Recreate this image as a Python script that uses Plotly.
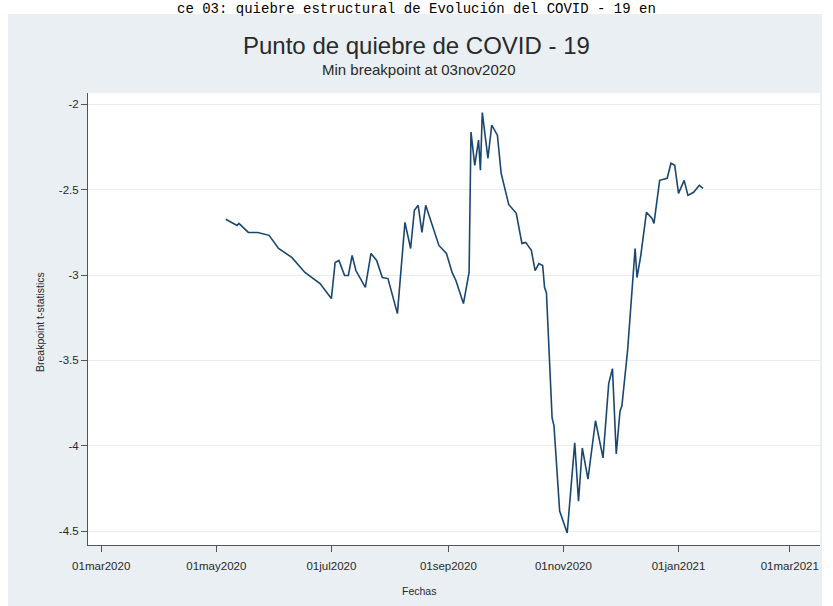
import plotly.graph_objects as go

# ---- data ----
dates = [
    "2020-05-06", "2020-05-12", "2020-05-13", "2020-05-18", "2020-05-23", "2020-05-29",
    "2020-06-03", "2020-06-10", "2020-06-17", "2020-06-25", "2020-07-01", "2020-07-03",
    "2020-07-05", "2020-07-08", "2020-07-10", "2020-07-12", "2020-07-14", "2020-07-19",
    "2020-07-22", "2020-07-25", "2020-07-28", "2020-07-31", "2020-08-05", "2020-08-09",
    "2020-08-12", "2020-08-14", "2020-08-16", "2020-08-18", "2020-08-20", "2020-08-24",
    "2020-08-27", "2020-08-31", "2020-09-03", "2020-09-05", "2020-09-09", "2020-09-12",
    "2020-09-13", "2020-09-15", "2020-09-17", "2020-09-18", "2020-09-19", "2020-09-22",
    "2020-09-24", "2020-09-27", "2020-09-29", "2020-10-03", "2020-10-07", "2020-10-10",
    "2020-10-12", "2020-10-15", "2020-10-17", "2020-10-19", "2020-10-21", "2020-10-22",
    "2020-10-23", "2020-10-26", "2020-10-27", "2020-10-30", "2020-11-03", "2020-11-07",
    "2020-11-09", "2020-11-11", "2020-11-12", "2020-11-14", "2020-11-18", "2020-11-20",
    "2020-11-22", "2020-11-25", "2020-11-27", "2020-11-29", "2020-12-01", "2020-12-02",
    "2020-12-05", "2020-12-09", "2020-12-10", "2020-12-12", "2020-12-15", "2020-12-18",
    "2020-12-19", "2020-12-22", "2020-12-26", "2020-12-28", "2020-12-30", "2021-01-01",
    "2021-01-04", "2021-01-06", "2021-01-09", "2021-01-12", "2021-01-14",
]
tstat = [
    -2.674, -2.710, -2.698, -2.751, -2.751, -2.768,
    -2.845, -2.897, -2.985, -3.050, -3.138, -2.927,
    -2.915, -3.003, -3.003, -2.886, -2.974, -3.073,
    -2.874, -2.915, -3.015, -3.021, -3.226, -2.692,
    -2.845, -2.622, -2.592, -2.751, -2.592, -2.721,
    -2.827, -2.874, -2.985, -3.032, -3.167, -2.985,
    -2.164, -2.358, -2.211, -2.387, -2.050, -2.317,
    -2.123, -2.182, -2.405, -2.587, -2.639, -2.815,
    -2.809, -2.856, -2.974, -2.933, -2.944, -3.073,
    -3.103, -3.836, -3.883, -4.381, -4.510, -3.982,
    -4.323, -4.012, -4.076, -4.194, -3.853, -3.953,
    -4.070, -3.636, -3.548, -4.047, -3.795, -3.765,
    -3.443, -2.845, -3.015, -2.886, -2.633, -2.669,
    -2.698, -2.446, -2.434, -2.346, -2.358, -2.522,
    -2.446, -2.534, -2.516, -2.475, -2.493,
]

x_tick_vals = ["2020-03-01", "2020-05-01", "2020-07-01", "2020-09-01",
               "2020-11-01", "2021-01-01", "2021-03-01"]
x_tick_text = ["01mar2020", "01may2020", "01jul2020", "01sep2020",
               "01nov2020", "01jan2021", "01mar2021"]
y_tick_vals = [-2, -2.5, -3, -3.5, -4, -4.5]
y_tick_text = ["-2", "-2.5", "-3", "-3.5", "-4", "-4.5"]

title_text = "Punto de quiebre de COVID - 19"
subtitle_text = "Min breakpoint at 03nov2020"
x_title = "Fechas"
y_title = "Breakpoint t-statistics"
top_text = "ce 03: quiebre estructural de Evolución del COVID - 19 en"

W, H = 833, 606
L, R, T, B = 88, 13, 93, 61
pw, ph = W - L - R, H - T - B

def px(xp):
    return (xp - L) / pw

def py(yp):
    return (H - B - yp) / ph

REGION = "#e9eff2"
FONT = "Liberation Sans, Arial, sans-serif"
TXT = "#2a2a2a"

fig = go.Figure()
fig.add_trace(go.Scatter(
    x=dates, y=tstat, mode="lines",
    line=dict(color="#1a476f", width=1.6),
    showlegend=False, hoverinfo="x+y",
))

shapes = [
    # white strips around the graph region
    dict(type="rect", xref="paper", yref="paper", x0=px(-5), x1=px(W + 5), y0=py(14), y1=py(-5),
         fillcolor="white", line=dict(width=0), layer="below"),
    dict(type="rect", xref="paper", yref="paper", x0=px(-5), x1=px(8), y0=py(H + 5), y1=py(-5),
         fillcolor="white", line=dict(width=0), layer="below"),
    dict(type="rect", xref="paper", yref="paper", x0=px(822), x1=px(W + 5), y0=py(H + 5), y1=py(-5),
         fillcolor="white", line=dict(width=0), layer="below"),
]

annotations = [
    dict(text=title_text, xref="paper", yref="paper", x=px(416), y=py(45),
         showarrow=False, font=dict(family=FONT, size=24, color=TXT),
         xanchor="center", yanchor="middle"),
    dict(text=subtitle_text, xref="paper", yref="paper", x=px(418), y=py(70),
         showarrow=False, font=dict(family=FONT, size=15, color=TXT),
         xanchor="center", yanchor="middle"),
    dict(text=top_text, xref="paper", yref="paper", x=px(416), y=py(9),
         showarrow=False, font=dict(family="Liberation Mono, Courier New, monospace", size=14, color="#000"),
         xanchor="center", yanchor="middle"),
    dict(text=x_title, xref="paper", yref="paper", x=px(419), y=py(591),
         showarrow=False, font=dict(family=FONT, size=10.5, color=TXT),
         xanchor="center", yanchor="middle"),
    dict(text=y_title, xref="paper", yref="paper", x=px(40), y=py(322),
         showarrow=False, textangle=-90, font=dict(family=FONT, size=10.5, color=TXT),
         xanchor="center", yanchor="middle"),
]

fig.update_layout(
    width=W, height=H,
    margin=dict(l=L, r=R, t=T, b=B, pad=0),
    paper_bgcolor=REGION,
    plot_bgcolor="white",
    font=dict(family=FONT, color=TXT),
    shapes=shapes,
    annotations=annotations,
    xaxis=dict(
        type="date",
        range=["2020-02-23", "2021-03-17"],
        tickvals=x_tick_vals, ticktext=x_tick_text,
        ticks="outside", ticklen=6, tickcolor="#555", tickwidth=1,
        ticklabelstandoff=4,
        showline=True, linecolor="#555", linewidth=1,
        showgrid=False, zeroline=False,
        tickfont=dict(size=11.5, color=TXT),
    ),
    yaxis=dict(
        range=[-4.58, -1.935],
        tickvals=y_tick_vals, ticktext=y_tick_text,
        ticks="outside", ticklen=6, tickcolor="#555", tickwidth=1,
        showline=True, linecolor="#555", linewidth=1,
        showgrid=True, gridcolor="#e8eef0", gridwidth=1,
        zeroline=False,
        tickfont=dict(size=11.5, color=TXT),
    ),
)

fig.write_html(
    "out.html",
    config={"displayModeBar": False},
    post_script="document.body.style.margin='0px';document.body.style.overflow='hidden';",
)
